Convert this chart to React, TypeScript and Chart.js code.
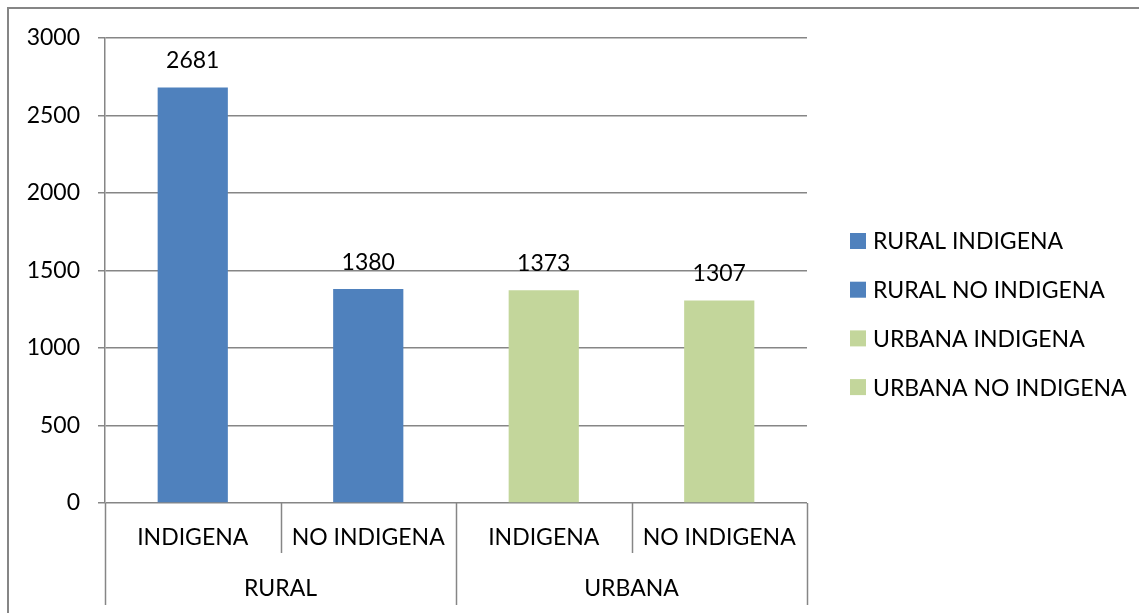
import React, { useEffect, useRef } from "react";
import { Chart, registerables } from "chart.js";

Chart.register(...registerables);

const categories = ["INDIGENA", "NO INDIGENA", "INDIGENA", "NO INDIGENA"];
const groups = ["RURAL", "URBANA"];
const seriesNames = ["RURAL INDIGENA", "RURAL NO INDIGENA", "URBANA INDIGENA", "URBANA NO INDIGENA"];
const values = [2681, 1380, 1373, 1307];
const seriesColors = ["#4F81BD", "#4F81BD", "#C3D69B", "#C3D69B"];
const yTicks = [0, 500, 1000, 1500, 2000, 2500, 3000];

const FONT = "23px Lato";
const LINE = "#868686";

const framePlugin = {
  id: "frame",
  beforeDraw(chart: any) {
    const ctx = chart.ctx;
    ctx.save();
    ctx.fillStyle = "#ffffff";
    ctx.fillRect(0, 0, chart.width, chart.height);
    ctx.strokeStyle = LINE;
    ctx.lineWidth = 2;
    ctx.beginPath();
    ctx.moveTo(8, chart.height + 10);
    ctx.lineTo(8, 8);
    ctx.lineTo(chart.width + 10, 8);
    ctx.stroke();
    ctx.restore();
  },
};

const valueLabels = {
  id: "valueLabels",
  afterDatasetsDraw(chart: any) {
    const ctx = chart.ctx;
    ctx.save();
    ctx.font = FONT;
    ctx.fillStyle = "#000";
    ctx.textAlign = "center";
    ctx.textBaseline = "alphabetic";
    chart.data.datasets.forEach((ds: any, di: number) => {
      const meta = chart.getDatasetMeta(di);
      meta.data.forEach((el: any, i: number) => {
        const v = ds.data[i];
        if (v === null || v === undefined) return;
        ctx.fillText(String(v), el.x, el.y - 19);
      });
    });
    ctx.restore();
  },
};

const categoryAxis = {
  id: "categoryAxis",
  afterDraw(chart: any) {
    const ctx = chart.ctx;
    const area = chart.chartArea;
    const n = categories.length;
    const w = (area.right - area.left) / n;
    const y0 = area.bottom;
    ctx.save();
    ctx.strokeStyle = LINE;
    ctx.lineWidth = 1.5;
    for (let i = 0; i <= n; i++) {
      const x = Math.round(area.left + i * w) + 0.5;
      const isGroup = i % 2 === 0;
      ctx.beginPath();
      ctx.moveTo(x, y0);
      ctx.lineTo(x, y0 + (isGroup ? 102 : 50));
      ctx.stroke();
    }
    ctx.font = FONT;
    ctx.fillStyle = "#000";
    ctx.textAlign = "center";
    ctx.textBaseline = "middle";
    categories.forEach((c, i) => {
      ctx.fillText(c, area.left + (i + 0.5) * w, y0 + 35);
    });
    groups.forEach((g, gi) => {
      ctx.fillText(g, area.left + (gi * 2 + 1) * w, y0 + 86);
    });
    ctx.restore();
  },
};

const customLegend = {
  id: "customLegend",
  afterDraw(chart: any) {
    const ctx = chart.ctx;
    ctx.save();
    ctx.font = FONT;
    ctx.textAlign = "left";
    ctx.textBaseline = "middle";
    seriesNames.forEach((name, i) => {
      const cy = 241 + i * 48.7;
      ctx.fillStyle = seriesColors[i];
      ctx.fillRect(850, cy - 8, 16, 16);
      ctx.fillStyle = "#000";
      ctx.fillText(name, 873, cy + 1);
    });
    ctx.restore();
  },
};

export default function App() {
  const ref = useRef<HTMLCanvasElement>(null);
  useEffect(() => {
    if (!ref.current) return;
    const datasets = seriesNames.map((name, si) => ({
      label: name,
      data: values.map((v, i) => (i === si ? v : null)),
      backgroundColor: seriesColors[si],
      borderWidth: 0,
      barPercentage: 0.4,
      categoryPercentage: 1.0,
    }));
    const chart = new Chart(ref.current, {
      type: "bar",
      data: { labels: categories, datasets },
      options: {
        animation: false,
        responsive: true,
        maintainAspectRatio: false,
        layout: { padding: { top: 38, right: 332, bottom: 0, left: 0 } },
        plugins: { legend: { display: false }, tooltip: { enabled: false } },
        scales: {
          x: {
            stacked: true,
            grid: { display: false },
            border: { display: false },
            ticks: { display: false },
            afterFit(scale: any) {
              scale.height = 110;
            },
          },
          y: {
            stacked: true,
            min: 0,
            max: 3000,
            afterBuildTicks(scale: any) {
              scale.ticks = yTicks.map((v) => ({ value: v }));
            },
            afterFit(scale: any) {
              scale.width = 105;
            },
            grid: { color: LINE, lineWidth: 1.5, tickLength: 7, drawTicks: true },
            border: { display: true, color: LINE, width: 1.5 },
            ticks: {
              color: "#000",
              font: { family: "Lato", size: 23 },
              padding: 18,
              callback: (v: any) => String(v),
            },
          },
        },
      },
      plugins: [framePlugin, valueLabels, categoryAxis, customLegend],
    });
    return () => chart.destroy();
  }, []);
  return (
    <div style={{ position: "absolute", left: 0, top: 0, width: 1139, height: 613 }}>
      <canvas ref={ref} />
    </div>
  );
}
